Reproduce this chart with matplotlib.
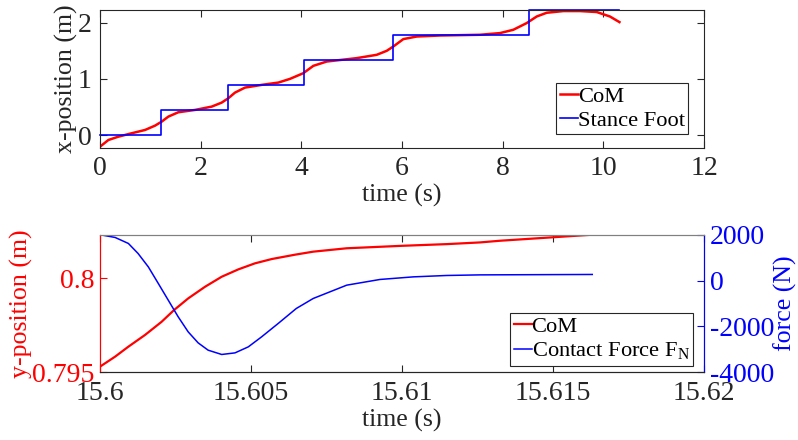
import matplotlib
matplotlib.use("Agg")
import matplotlib.pyplot as plt

plt.rcParams['font.family'] = ['Liberation Serif', 'DejaVu Serif']
plt.rcParams['mathtext.fontset'] = 'custom'
plt.rcParams['mathtext.rm'] = 'Liberation Serif'
plt.rcParams['axes.unicode_minus'] = False
plt.rcParams['font.size'] = 20
plt.rcParams['axes.labelsize'] = 18.6

# top panel: CoM x-position and stance foot
t_com = [0, 0.166, 0.364, 0.63, 0.894, 1.093, 1.225, 1.357, 1.556, 1.888, 2.219, 2.417,
         2.55, 2.682, 2.881, 3.212, 3.543, 3.775, 4.04, 4.238, 4.504, 5.1, 5.497, 5.696,
         5.828, 6.026, 6.292, 6.755, 7.55, 7.948, 8.212, 8.478, 8.677, 8.875, 9.206,
         9.537, 9.868, 10.13, 10.32]
x_com = [-0.203, -0.084, -0.025, 0.036, 0.094, 0.171, 0.242, 0.331, 0.409, 0.45, 0.509,
         0.58, 0.658, 0.758, 0.847, 0.895, 0.936, 1.002, 1.103, 1.233, 1.31, 1.37, 1.429,
         1.5, 1.577, 1.708, 1.754, 1.772, 1.785, 1.815, 1.874, 1.993, 2.11, 2.176, 2.206,
         2.206, 2.189, 2.11, 2.01]
t_foot = [0, 1.205, 2.55, 4.06, 5.83, 8.52, 10.32]
x_foot = [0, 0.445, 0.89, 1.335, 1.78, 2.225, 2.225]

# bottom panel: CoM y-position and contact force
t_y = [15.6, 15.6005, 15.60094, 15.60149, 15.60204, 15.60245, 15.60292, 15.60348,
       15.60403, 15.60458, 15.60513, 15.60569, 15.60646, 15.60706, 15.60817, 15.60999,
       15.61148, 15.61258, 15.61325, 15.6163]
y_com = [0.7953, 0.79583, 0.79636, 0.79698, 0.79768, 0.7983, 0.79892, 0.79954, 0.80007,
         0.80046, 0.80078, 0.80101, 0.80124, 0.8014, 0.80158, 0.80171, 0.8018, 0.80189,
         0.80198, 0.8023]
t_f = [15.6, 15.6005, 15.60094, 15.60126, 15.6016, 15.60193, 15.60226, 15.60259,
       15.60292, 15.60325, 15.60358, 15.60403, 15.60447, 15.60491, 15.60535, 15.6059,
       15.6065, 15.60706, 15.60817, 15.60927, 15.61037, 15.61148, 15.61258, 15.6163]
force = [2000, 1880, 1618, 1182, 597, -126, -855, -1583, -2237, -2717, -3035, -3223,
         -3153, -2891, -2455, -1871, -1217, -781, -200, 48, 161, 222, 248, 266]

dark = '#262626'
W, H = 798, 440
fig = plt.figure(figsize=(W / 100, H / 100), dpi=100)

ax1 = fig.add_axes([100 / W, 1 - 148 / H, 604 / W, 138 / H])
ax1.plot(t_com, x_com, color='red', lw=1.8, label='CoM')
ax1.step(t_foot, x_foot, where='post', color='blue', lw=1.2, label='Stance Foot',
         clip_on=False)
ax1.set_xlim(0, 12)
ax1.set_ylim(-0.226, 2.225)
ax1.set_xticks([0, 2, 4, 6, 8, 10, 12])
ax1.set_yticks([0, 1, 2])
ax1.set_xlabel('time (s)', color=dark, labelpad=2)
ax1.set_ylabel('x-position (m)', color=dark, labelpad=0)
ax1.tick_params(direction='in', top=True, right=True, colors=dark, length=5, pad=6)
for s in ax1.spines.values():
    s.set_color(dark)
leg1 = ax1.legend(loc='lower right', bbox_to_anchor=(0.974, 0.1), handlelength=0.8,
                  handletextpad=0.0, borderpad=0.15, labelspacing=0.15, fancybox=False,
                  framealpha=1, borderaxespad=0, fontsize=16.2)
leg1.get_frame().set_edgecolor(dark)
leg1.get_frame().set_linewidth(0.8)

ax2 = fig.add_axes([100 / W, 1 - 372.3 / H, 604 / W, 137.6 / H])
ax3 = ax2.twinx()
l1, = ax2.plot(t_y, y_com, color='red', lw=1.6, label='CoM')
l2, = ax3.plot(t_f, force, color='blue', lw=1.1, label='Contact Force F$_\\mathrm{N}$')
ax2.set_xlim(15.6, 15.62)
ax2.set_ylim(0.795, 0.8023)
ax3.set_ylim(-4000, 2000)
ax2.set_xticks([15.6, 15.605, 15.61, 15.615, 15.62])
ax2.set_xticklabels(['15.6', '15.605', '15.61', '15.615', '15.62'])
ax2.set_yticks([0.795, 0.8])
ax2.set_yticklabels(['0.795', '0.8'])
ax3.set_yticks([-4000, -2000, 0, 2000])
ax2.set_xlabel('time (s)', color=dark, labelpad=2)
ax2.set_ylabel('y-position (m)', color='red', labelpad=-1)
ax3.set_ylabel('force (N)', color='blue', labelpad=0)
ax2.tick_params(axis='x', direction='in', top=True, colors=dark, length=5, pad=6)
ax2.tick_params(axis='y', direction='in', colors='red', length=5, pad=4)
ax3.tick_params(axis='y', direction='in', colors='blue', length=5, pad=4)
ax2.spines['left'].set_color('red')
ax2.spines['bottom'].set_color(dark)
ax2.spines['top'].set_color('#808080')
ax3.spines['left'].set_color('red')
ax3.spines['right'].set_color('blue')
ax3.spines['top'].set_color('#808080')
ax3.spines['bottom'].set_color(dark)
leg2 = ax3.legend([l1, l2], [l1.get_label(), l2.get_label()], loc='lower right',
                  bbox_to_anchor=(0.982, 0.048), handlelength=0.8, handletextpad=0.0,
                  borderpad=0.15, labelspacing=0.15, fancybox=False, framealpha=1,
                  borderaxespad=0, fontsize=16.2)
leg2.get_frame().set_edgecolor(dark)
leg2.get_frame().set_linewidth(0.8)

fig.savefig('out.png', dpi=100)
